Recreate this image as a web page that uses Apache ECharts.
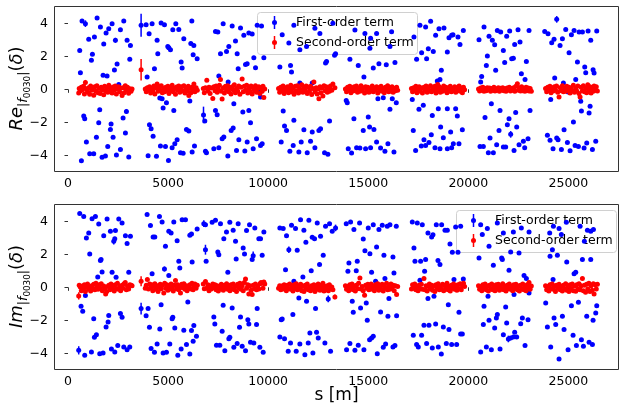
<!DOCTYPE html>
<html>
<head>
<meta charset="utf-8">
<script src="https://cdn.jsdelivr.net/npm/echarts@6/dist/echarts.min.js"></script>
<style>
  html, body { margin: 0; padding: 0; background: #fff; }
  #chart { width: 620px; height: 408px; }
</style>
</head>
<body>
<div id="chart"></div>
<script>
// Tick positions
const xTicks = [0, 5000, 10000, 15000, 20000, 25000];
const yTicks = [-4, -2, 0, 2, 4];

// First-order term, real part: [s, value] or [s, value, error]
const firstRe = [
  [585,2.36],[619,1.01],[669,-4.33],[702,4.14],[785,-1.62],[835,-1.78],[869,3.98,0.2],[919,-3.19],[1035,3.03],[1085,-3.90],
  [1169,1.76],[1219,2.12],[1285,-3.90],[1319,3.17],[1419,-2.91],[1452,4.32],[1535,-2.02],[1585,-1.24],[1619,3.77],[1702,-4.12],
  [1752,0.85],[1785,2.74],[1869,-4.04],[1902,3.41],[1952,0.81],[1985,-3.46],[2035,3.67],[2119,-2.43],[2152,-2.10],[2202,3.98],
  [2252,-2.91],[2319,1.17],[2369,2.97,0.15],[2419,-3.98],[2452,1.53],[2536,0.30],[2619,3.61],[2619,-3.64],[2752,-1.74],[2786,4.14],
  [2869,-2.65],[2919,-1.34,0.15],[2952,2.97],[3036,-4.10],[3086,1.82],[3119,2.66],
  [3652,3.88,0.7],[3902,3.92],[3952,0.74],[4002,-4.02],[4052,3.37],[4069,-2.14],[4152,-2.39],[4202,3.98],[4252,-2.85],[4319,1.25],
  [4419,-4.06],[4452,2.97],[4486,2.16],[4586,-0.53],[4619,-3.44],[4652,4.02],[4702,-0.57],[4752,-1.13],[4819,3.92],[4869,-3.46],
  [4919,-0.81],[4986,2.60],[5019,-4.31],[5036,2.52],[5119,2.40],[5202,-3.54],[5236,3.61],[5286,-1.28],[5336,-3.30],[5386,3.98],
  [5452,-3.05],[5536,3.63],[5619,-3.84],[5652,1.65],[5702,1.29],[5752,-3.88],[5786,3.07],[5919,-2.43],[6036,-2.53],[6086,-0.71],
  [6136,2.77],[6186,4.14],[6202,-3.80],[6252,2.10],[6286,2.66],[6319,-3.44],[6452,1.86],
  [6770,-1.55,0.5],[6835,-1.92],[6868,-3.76],[6918,-3.84],[7285,-3.60],[7368,3.51],[7368,-1.28],[7452,-1.54],[7485,3.47],[7535,0.81],
  [7535,-3.54],[7619,2.16],[7702,-2.99],[7752,3.98],[7785,-2.89],[7919,2.30],[7985,-4.04],[8002,0.44],[8035,2.60],[8152,-2.49],
  [8202,3.84],[8252,-2.35],[8285,-0.87],[8368,2.93],[8419,-3.70],[8452,2.16],[8502,1.25],[8535,-3.05],[8619,3.71],[8735,-1.38],
  [8785,3.27],[8835,-3.74],[8869,1.51],[8952,1.55],[8952,-3.19],[9035,3.41],[9035,-1.28],[9119,-2.02],[9202,3.35],[9252,-3.60],
  [9285,1.92],[9369,1.31],[9419,-2.99],[9452,3.88],[9535,-0.16],[9619,-0.47],[9619,-3.40],[9668,3.84],[9702,-3.30],[9785,1.92],
  [10585,1.35],[10652,-3.19],[10702,3.31],[10752,-1.32],[10818,-2.22],[10918,-2.49],[11035,2.81],[11085,-3.76],[11118,1.45],[11168,1.05],
  [11252,-3.40],[11285,3.88],[11285,-1.88],[11535,-3.80],[11585,0.38],[11585,2.40],[11652,-3.19],[11785,-2.45],[11918,2.60],[11952,-3.84],
  [12118,-3.15],[12203,0.38],[12203,-2.59],[12335,3.70],[12335,-3.54],[12535,-2.49],[12585,3.39],[12618,-2.39],[12818,-3.84],[12868,1.59],
  [12918,1.69],[12985,-3.94],[13068,-1.92],[13235,4.00],[13318,2.06],
  [13368,2.16],[13902,-0.67],[13952,-0.81],[14002,-3.60],[14085,1.82],[14168,-3.86],[14285,-1.78],[14335,3.59],[14418,-3.54],[14502,1.45],
  [14585,-3.56],[14752,-2.49],[14785,0.74],[14835,3.39],[14868,-3.60],[15002,-1.68],[15068,-2.29],[15085,2.49],[15118,3.10],[15118,-3.54],
  [15252,1.29],[15285,-2.43],[15418,3.39],[15418,-3.19],[15485,-0.57],[15535,1.55],[15618,-3.56],[15752,-0.51],[15835,-3.76],[15902,1.49],
  [15985,-3.30],[16085,2.60],[16085,-1.21],[16168,3.49],[16202,-0.57],[16285,-3.80],[16335,1.63],[16402,-0.81],
  [17202,-0.61],[17252,-2.49],[17285,3.17],[17368,-3.70],[17418,1.82],[17535,-1.21],[17585,3.88],[17652,-3.44],[17668,2.22],[17752,-0.97],
  [17785,-3.05],[17868,3.77],[17868,-3.40],[17918,1.86],[18002,2.46],[18035,-3.23],[18118,4.12],[18152,-2.75],[18202,-1.58],[18252,2.30],
  [18335,-3.54],[18368,3.27],[18452,0.50],[18502,-1.17],[18535,3.67],[18585,0.60],[18585,-3.60],[18618,-2.29],[18652,1.15],[18752,-2.93],
  [18785,3.71],[18952,2.26],[18952,-1.17],[18952,-3.60],[19035,3.13],[19118,-2.59],[19168,3.27],[19168,-3.54],[19235,3.31],[19252,-3.30],
  [19368,-1.17],[19452,-1.62],[19485,3.17],[19535,-3.30],[19585,2.72],[19702,-2.45],[19752,3.57],
  [20535,3.01],[20585,-3.46],[20618,0.44],[20668,0.78],[20752,-3.46],[20785,3.77],[20835,-1.70],[20902,1.45],[20952,2.02],[21002,-3.84],
  [21035,3.21],[21085,-2.95],[21152,-0.87],[21202,2.97],[21252,-3.84],[21318,2.70],[21368,1.15],[21418,-3.36],[21452,3.57],[21535,-2.49],
  [21585,-1.28],[21618,3.47],[21752,2.36],[21752,-3.50],[21818,1.63],[21868,-3.50],[21918,3.21],[21952,-2.14],[22035,-1.78],[22068,3.53],
  [22118,-2.73,0.2],[22168,1.86],[22252,1.88],[22285,-3.70],[22318,2.72],[22368,-1.40],[22418,-2.29],[22485,3.61],[22535,-3.36],[22585,2.87],
  [22652,0.95],[22752,-3.15],[22818,-3.54],[22835,0.60],[22902,1.69],[22985,-2.99],[23035,3.57],[23085,-1.28],
  [23818,3.51],[23952,-2.79],[23985,3.37],[24085,-3.09],[24118,-0.61],[24168,2.83],[24235,-3.60],[24285,3.03],[24318,0.68],[24418,4.24,0.2],
  [24418,-2.95],[24485,-3.05],[24585,2.66],[24652,-3.64],[24702,3.07],[24752,0.38],[24785,-2.45],[24868,3.63],[24952,-3.23],[24985,-0.16],
  [25035,2.22],[25085,-3.72],[25152,3.31],[25252,-1.98],[25285,3.57],[25335,-3.40],[25368,0.60],[25452,1.65],[25502,-3.46],[25535,3.47],
  [25618,-0.73],[25652,-1.32],[25702,3.47],[25785,-3.56],[25818,1.35],[25868,1.01],[25918,-3.25],[25985,3.53],[26035,-1.44],[26085,-1.03],
  [26118,2.97],[26202,-3.64],[26235,1.19],[26285,0.99],[26368,-3.15],[26418,3.53]
];

// First-order term, imaginary part
const firstIm = [
  [535,-3.82,0.25],[585,4.47],[652,-1.15],[735,-1.45],[785,4.30],[835,-4.12],[869,-0.50],[919,2.99],[1035,3.30],[1085,2.02],
  [1169,-3.92],[1202,4.16],[1285,-1.90],[1319,-3.03],[1369,4.30],[1419,-2.87],[1485,0.63],[1535,3.84],[1585,-4.02],[1619,1.62],
  [1652,1.68],[1702,0.93],[1752,-3.98],[1785,3.13],[1902,-2.40],[1952,4.14],[2002,-2.10],[2035,-1.70],[2119,3.40],[2169,-3.74],
  [2202,0.91],[2286,2.79,0.2],[2336,2.95],[2336,-3.92],[2369,3.44],[2402,0.61],[2486,-3.53],[2536,4.14],[2619,-1.59],[2702,3.90],
  [2702,-1.82],[2786,-3.61],[2869,3.13],[2952,2.65],[2952,-3.78],[3036,0.91],[3086,-3.61],[3119,3.09],
  [3652,-1.29,0.35],[3902,-1.72],[3952,4.41],[4002,-1.29],[4069,-2.42],[4119,3.74],[4152,-3.70],[4202,0.83],[4252,3.05],[4319,-3.94],
  [4336,3.05],[4452,-3.43],[4569,4.30],[4586,-2.52],[4652,-1.05],[4702,3.96],[4752,-3.98],[4819,1.11,0.15],[4869,2.49],[4919,-3.94],
  [5036,3.40],[5036,0.71],[5086,-3.43],[5152,3.30],[5202,-1.90],[5236,-1.82],[5286,3.96],[5336,-2.46],[5452,2.83],[5486,-4.12],
  [5536,1.58],[5586,1.17],[5652,-3.74],[5702,4.10],[5786,-2.60],[5869,4.10],[5919,-3.47],[5986,-0.89],[6086,3.15],[6086,-4.04],
  [6169,3.23],[6169,-2.62],[6202,1.54],[6252,-3.27],[6286,-2.32],[6418,-2.97],[6452,3.54],
  [6785,3.86,0.2],[6868,3.80],[6868,2.28,0.3],[6902,1.58],[7202,3.94],[7285,-1.80],[7335,-2.22],[7368,4.06],[7418,-3.51],[7485,2.14],
  [7535,1.98],[7585,-3.51],[7618,3.86],[7702,-2.66],[7752,-1.09],[7785,2.95],[7835,-3.84],[7918,3.36],[7985,0.91],[8035,-3.11],
  [8085,3.94],[8085,-3.03],[8202,-1.25],[8252,3.46],[8285,-3.63],[8369,2.79],[8402,1.72],[8452,-3.41],[8502,3.86],[8569,-2.42],
  [8619,-1.80],[8702,-3.57],[8752,2.39],[8819,2.02],[8869,-3.84],[8919,3.44],[8985,-1.96],[9035,-2.22],[9069,3.80],[9119,-3.33],
  [9202,1.68],[9252,1.92,0.25],[9285,-3.37],[9335,3.60],[9419,-2.26],[9452,-1.29],[9535,2.95],[9585,-3.63],[9619,2.95],[9702,1.94],
  [9752,-3.94],[9785,3.36],
  [10585,3.60],[10585,-3.01],[10652,-1.96],[10702,-1.92],[10752,3.56],[10818,-3.11],[10868,1.07],[10918,3.13],[11002,-3.88],[11035,2.28,0.2],
  [11118,-3.37],[11168,3.76],[11235,-1.65],[11285,0.37],[11368,3.56],[11402,-3.88],[11452,2.24],[11535,-0.64],[11585,-3.43],[11618,4.10],
  [11735,0.63],[11785,3.46],[11835,-4.08],[11885,2.73],[11918,-0.85],[12002,-3.37],[12035,4.06],[12085,-2.77],[12152,1.01],[12202,3.03],
  [12235,-3.98],[12318,2.95],[12368,-1.29],[12418,-2.73],[12452,3.90],[12502,-3.07],[12568,1.38],[12618,3.09],[12752,1.94],[12835,-3.37],
  [12868,3.70],[13002,-0.70,0.2],[13068,3.86],[13118,-3.88],[13202,3.40],
  [13368,3.60,0.2],[13902,3.86],[13918,-3.78],[13985,0.97],[14035,1.48],[14085,-3.41],[14118,3.96],[14202,-0.85],[14252,-1.51],[14285,3.50],
  [14335,-3.82],[14402,1.01],[14452,1.58],[14502,-3.51],[14568,3.90],[14618,-1.25],[14752,2.93],[14785,-3.78],[14835,2.22],[14902,-0.95],
  [14952,-2.00],[15002,3.60],[15068,-3.17],[15085,2.04],[15168,0.91],[15168,-3.07],[15252,3.80],[15252,-2.97],[15368,0.37],[15418,2.45],
  [15452,-4.02],[15535,3.50],[15618,-1.49],[15702,3.76],[15752,-3.63],[15785,1.94],[15835,0.53],[15868,-3.43],[15952,3.70],[15985,-1.76],
  [16035,-0.68],[16085,3.80],[16235,1.84],[16235,-3.61],[16285,0.87],[16335,-3.53],[16402,3.70],[16418,-1.72],
  [17202,3.96],[17252,-2.91],[17285,2.39],[17335,1.58],[17418,-3.47],[17452,3.90],[17502,-3.61],[17585,0.43],[17618,1.58],[17668,-2.91],
  [17702,3.80],[17785,-2.30],[17818,0.97],[17868,1.68],[17918,-3.41],[17985,3.30],[17985,-0.68],[18035,-2.30],[18168,3.05],[18202,-3.67],
  [18235,3.19],[18285,-0.54],[18368,-2.22],[18402,3.80],[18485,1.62],[18502,-3.61],[18585,1.38],[18652,-4.04],[18668,3.80],[18752,-2.40],
  [18835,3.46],[18902,-3.41],[18952,3.46],[19002,-1.05],[19035,-2.56],[19085,2.63],[19168,-3.47],[19202,2.12],[19285,0.47],[19368,3.66],
  [19418,-3.47],[19485,2.12],[19535,-1.51],[19618,3.70],[19618,-2.83],[19702,-2.83],[19752,0.51],
  [20535,1.78],[20618,3.80],[20618,-3.92],[20700,3.20],[20752,-2.26],[20785,-1.15],[20902,-3.61],[20952,3.56],[20985,-0.54],[21035,-2.00],
  [21035,2.49],[21152,-3.78],[21252,1.34],[21318,-2.46],[21402,-1.86],[21450,3.90],[21452,-1.65],[21585,-3.74],[21668,1.78],[21702,1.68],
  [21752,3.30],[21752,-2.87],[21868,-1.19],[21918,-2.16],[22002,-3.13,0.2],[22035,1.03],[22118,2.14],[22118,-3.07],[22252,3.36],[22252,-3.01],
  [22285,-0.44],[22318,-2.73],[22418,-3.01],[22535,2.08],[22618,-2.20],[22650,3.60],[22702,-1.86],[22785,0.71],[22835,-3.53],[22902,0.53],
  [22985,-1.96],[23035,3.36],[23035,-0.34],
  [23868,-0.95],[23952,-2.40],[24068,3.30],[24085,1.88],[24118,-3.61],[24202,2.28],[24235,0.47],[24252,3.70],[24285,-1.86],[24368,-2.26],
  [24452,1.94],[24535,3.56],[24535,-4.34],[24650,3.20],[24702,-1.76],[24785,-2.56],[24900,3.95],[24918,1.54],[24985,-3.78],[25152,-1.11],
  [25235,-2.91],[25285,0.83],[25368,0.91],[25402,-3.53],[25502,-0.91],[25585,3.70],[25652,-3.17],[25702,1.68],[25752,-3.57],[25800,2.80],
  [25918,-1.76],[25952,3.46],[26035,-3.33],[26118,1.68],[26118,3.40],[26202,-3.47],[26235,-2.00],[26252,3.50],[26368,-1.55],[26418,-1.11]
];

// Second-order term: [s, real part, imaginary part]
const secondOrder = [
  [535,-0.22,-0.52],[560,0.05,0.12],[615,-0.10,0.02],[665,0.12,-0.20],[720,-0.02,0.08],[775,0.18,-0.06],[820,-0.28,0.15],[869,0.42,-0.25],
  [920,0.02,0.05],[975,-0.15,0.20],[1025,0.10,-0.10],[1080,-0.30,0.02],[1130,0.20,-0.22],[1185,-0.05,0.10],[1240,0.08,-0.05],[1285,-0.36,0.18],
  [1340,0.15,-0.15],[1395,-0.12,0.25],[1445,0.22,0.00],[1500,-0.20,-0.12],[1555,0.05,0.15],[1610,-0.25,-0.05],[1660,0.12,0.22],[1715,-0.02,-0.20],
  [1785,-0.33,0.08],[1830,0.18,-0.08],[1880,-0.08,-0.40],[1935,0.10,-0.25],[1990,-0.18,0.05],[2040,0.25,0.12],[2095,-0.10,-0.15],[2150,0.06,0.20],
  [2200,-0.22,-0.02],[2255,0.14,0.10],[2310,-0.05,-0.22],[2360,0.20,0.15],[2415,-0.28,-0.08],[2470,0.02,0.25],[2520,0.16,-0.12],[2580,-0.14,0.05],
  [2630,0.08,-0.20],[2702,-0.37,0.12],[2750,0.10,-0.05],[2805,-0.20,0.22],[2860,0.22,0.30],[2915,-0.06,-0.15],[2970,0.12,0.08],[3030,-0.24,-0.10],
  [3090,0.04,0.15],[3150,-0.12,0.12],[3200,0.02,0.10],
  [3652,1.19,0.37],
  [3860,0.02,-0.05],[3910,-0.15,0.12],[3965,0.10,0.47],[4020,-0.05,-0.10],[4075,0.15,0.20],[4130,-0.22,-0.02],[4180,0.05,0.15],[4235,-0.10,-0.20],
  [4290,0.20,0.05],[4340,-0.28,0.22],[4395,0.08,-0.12],[4452,0.32,0.10],[4500,-0.12,-0.25],[4555,0.15,0.02],[4610,-0.05,0.18],[4660,0.22,-0.08],
  [4715,-0.20,0.12],[4785,0.05,-0.34],[4830,-0.15,0.25],[4885,0.12,-0.05],[4940,-0.02,0.15],[4990,0.18,-0.18],[5045,-0.25,0.08],[5100,0.10,-0.10],
  [5150,-0.08,0.20],[5205,0.25,0.00],[5260,-0.15,-0.22],[5310,0.05,0.12],[5370,-0.30,0.41],[5420,0.14,-0.08],[5475,-0.04,0.15],[5530,0.20,-0.15],
  [5585,-0.18,0.05],[5620,0.02,-0.34],[5680,0.16,0.18],[5735,-0.10,-0.02],[5790,0.22,0.22],[5845,-0.22,-0.12],[5900,0.08,0.10],[5950,-0.12,-0.20],
  [6010,0.18,0.08],[6036,-0.37,-0.05],[6090,0.05,0.15],[6140,-0.20,-0.10],[6195,0.12,0.25],[6250,-0.08,-0.15],[6290,0.32,0.05],[6340,-0.15,0.20],
  [6400,0.10,-0.05],[6460,-0.05,0.12],
  [6760,0.05,0.20],[6810,-0.20,-0.08],[6868,0.10,0.36],[6935,0.55,-0.05],[6990,-0.10,0.15],[7045,0.12,-0.20],[7100,-0.25,0.08],[7160,0.08,-0.10],
  [7235,-0.55,0.20],[7290,0.15,-0.02],[7345,-0.08,0.15],[7400,0.20,-0.15],[7455,-0.18,0.10],[7510,0.05,-0.22],[7565,0.25,0.05],[7618,0.60,-0.10],
  [7660,-0.12,0.18],[7700,-0.59,0.00],[7760,0.10,-0.18],[7815,-0.22,0.12],[7870,0.18,-0.05],[7925,-0.05,0.22],[7980,0.22,-0.12],[8035,-0.15,0.08],
  [8090,0.08,-0.20],[8145,-0.28,0.15],[8200,0.15,-0.08],[8255,-0.02,0.20],[8310,0.28,-0.15],[8365,-0.20,0.05],[8420,0.05,-0.25],[8475,-0.10,0.18],
  [8530,0.20,-0.02],[8590,-0.30,0.25],[8645,0.12,-0.12],[8700,0.62,0.10],[8755,-0.15,-0.20],[8810,0.18,0.30],[8869,-0.05,0.51],[8925,0.25,-0.05],
  [8980,-0.22,0.15],[9035,0.08,-0.40],[9090,-0.12,0.10],[9145,0.20,-0.18],[9202,-0.28,-0.44],[9255,0.10,0.12],[9310,-0.05,-0.08],[9365,0.22,0.20],
  [9420,-0.18,-0.15],[9475,0.05,0.05],[9535,0.15,-0.10],[9590,-0.25,0.22],[9645,0.08,0.30],[9700,-0.12,0.25],[9740,0.18,-0.05],[9785,-0.50,0.32],
  [9830,0.02,0.20],
  [10520,0.05,-0.05],[10575,-0.18,0.10],[10630,0.12,-0.15],[10690,-0.05,0.08],[10745,0.20,-0.10],[10800,-0.25,0.15],[10855,0.08,0.02],[10910,-0.10,-0.20],
  [10965,0.15,0.12],[11020,-0.20,-0.08],[11075,0.02,0.20],[11130,0.25,-0.12],[11185,-0.15,0.05],[11240,0.10,-0.22],[11295,-0.30,0.15],[11350,0.18,-0.05],
  [11405,-0.08,0.22],[11460,0.22,-0.15],[11515,-0.22,0.08],[11570,0.05,-0.10],[11625,-0.12,0.18],[11680,0.28,-0.20],[11735,-0.18,0.05],[11790,0.08,-0.25],
  [11845,-0.05,0.12],[11900,0.20,-0.08],[11955,-0.25,0.20],[12010,0.12,-0.15],[12065,-0.10,0.02],[12120,0.18,-0.20],[12175,-0.32,0.10],[12230,0.05,-0.05],
  [12285,0.44,0.15],[12340,-0.15,-0.25],[12395,0.10,0.08],[12450,-0.28,-0.12],[12500,0.02,0.20],[12535,-0.57,-0.05],[12590,0.15,-0.18],[12640,-0.20,0.12],
  [12690,0.08,-0.10],[12735,-0.40,0.25],[12790,0.22,-0.22],[12845,-0.08,0.05],[12900,0.15,-0.15],[12955,-0.18,0.10],[13010,0.05,-0.20],[13060,-0.12,0.15],
  [13110,0.20,-0.08],[13180,-0.05,0.02],[13235,0.32,-0.14],[13335,0.10,-0.58],
  [13860,0.02,0.10],[13915,-0.15,-0.12],[13970,0.12,0.05],[14025,-0.05,-0.20],[14080,0.18,0.15],[14135,-0.20,-0.05],[14190,0.08,0.20],[14245,-0.10,-0.15],
  [14300,0.15,0.08],[14355,-0.02,-0.22],[14410,0.20,0.12],[14465,-0.18,-0.08],[14520,0.05,0.25],[14585,-0.12,0.57],[14640,0.22,-0.10],[14695,-0.08,0.05],
  [14750,0.10,-0.20],[14818,-0.22,-0.48],[14870,0.15,0.12],[14925,-0.05,-0.05],[14980,0.12,0.18],[15035,-0.18,-0.15],[15090,0.05,0.02],[15145,-0.10,0.20],
  [15200,0.20,-0.12],[15255,-0.15,0.08],[15310,0.08,-0.20],[15365,-0.02,0.15],[15420,0.16,-0.05],[15475,-0.22,0.22],[15530,0.10,-0.18],[15585,-0.08,0.05],
  [15640,0.18,-0.10],[15695,-0.12,0.18],[15750,0.05,-0.22],[15805,-0.20,0.10],[15860,0.12,-0.05],[15915,-0.05,0.25],[15970,0.22,-0.15],[16025,-0.15,0.05],
  [16080,0.08,-0.12],[16135,-0.10,0.20],[16190,0.15,-0.08],[16245,-0.18,0.12],[16300,0.05,-0.20],[16355,-0.08,0.10],[16418,0.12,-0.44],[16470,-0.05,0.05],
  [17160,0.05,-0.10],[17215,-0.15,0.15],[17270,0.10,-0.05],[17325,-0.08,0.20],[17380,0.18,-0.15],[17435,-0.20,0.08],[17490,0.02,-0.20],[17545,0.15,0.12],
  [17600,-0.12,-0.08],[17655,0.08,0.18],[17710,-0.22,-0.12],[17785,0.12,0.53],[17835,-0.05,-0.15],[17890,0.20,0.10],[17945,-0.18,-0.22],[18000,0.05,0.05],
  [18055,-0.10,0.20],[18110,0.22,-0.10],[18165,-0.15,0.12],[18220,0.08,-0.18],[18275,-0.02,0.08],[18330,0.18,-0.25],[18385,-0.22,0.15],[18440,0.10,-0.05],
  [18470,0.30,0.02],[18495,-0.08,0.22],[18550,0.15,-0.15],[18605,-0.18,0.05],[18660,0.05,-0.12],[18715,-0.12,0.18],[18770,0.20,-0.20],[18825,-0.05,0.10],
  [18880,0.12,-0.08],[18935,-0.20,0.25],[18990,0.08,-0.15],[19045,-0.10,0.05],[19100,0.18,-0.22],[19155,-0.15,0.12],[19210,0.05,-0.05],[19265,-0.08,0.20],
  [19320,0.15,-0.12],[19375,-0.18,0.08],[19430,0.10,-0.18],[19485,-0.05,0.15],[19540,0.20,-0.08],[19595,-0.12,0.22],[19650,0.08,-0.15],[19705,-0.20,0.10],
  [19760,0.12,0.25],[19815,-0.02,0.05],
  [20510,0.02,0.10],[20565,-0.10,-0.12],[20620,0.08,0.05],[20675,-0.05,-0.20],[20730,0.12,0.15],[20785,-0.12,-0.05],[20840,0.05,0.20],[20895,-0.08,-0.15],
  [20950,0.10,0.08],[21005,-0.02,-0.22],[21060,0.08,0.12],[21115,-0.12,-0.08],[21170,0.05,0.20],[21225,-0.06,-0.15],[21280,0.12,0.05],[21335,-0.10,-0.20],
  [21390,0.02,0.15],[21445,-0.05,-0.05],[21500,0.10,0.18],[21555,-0.12,-0.18],[21610,0.06,0.08],[21665,-0.04,-0.10],[21720,0.10,0.22],[21775,-0.08,-0.15],
  [21830,0.04,0.05],[21885,-0.12,-0.22],[21940,0.08,0.12],[21995,-0.02,-0.08],[22050,0.12,0.20],[22105,-0.10,-0.12],[22160,0.05,0.05],[22215,-0.06,-0.20],
  [22270,0.10,0.15],[22325,-0.12,-0.05],[22380,0.18,0.18],[22452,0.34,-0.15],[22500,-0.05,0.08],[22555,0.10,-0.22],[22610,-0.10,0.12],[22665,0.15,-0.08],
  [22720,-0.08,0.20],[22775,0.05,-0.15],[22830,-0.12,0.05],[22885,0.12,-0.20],[22940,-0.05,0.15],[22995,0.08,-0.05],[23035,-0.10,0.30],[23090,0.05,-0.12],
  [23150,-0.12,0.08],
  [23860,0.05,0.10],[23915,-0.15,-0.15],[23970,0.12,0.05],[24025,-0.05,-0.22],[24080,0.18,0.15],[24135,-0.20,-0.08],[24190,0.08,0.20],[24245,-0.10,-0.12],
  [24300,0.15,0.08],[24355,-0.02,-0.25],[24410,0.20,0.12],[24465,-0.18,-0.05],[24535,-0.47,0.18],[24590,0.10,-0.15],[24645,-0.08,0.05],[24700,0.22,-0.22],
  [24755,-0.15,0.12],[24810,0.05,-0.10],[24865,-0.12,0.22],[24920,0.18,-0.18],[24975,-0.05,0.05],[25030,0.12,-0.25],[25085,-0.22,0.15],[25140,0.08,-0.08],
  [25195,-0.10,0.20],[25250,0.25,-0.20],[25305,-0.18,0.08],[25368,0.05,-0.24],[25420,-0.10,0.15],[25475,0.20,-0.10],[25530,-0.25,0.22],[25585,-0.47,-0.15],
  [25640,0.12,0.10],[25702,-0.08,0.53],[25750,0.22,-0.20],[25805,-0.15,0.12],[25860,0.08,-0.30],[25915,-0.20,0.18],[25970,0.28,-0.10],[26025,-0.05,0.25],
  [26080,0.15,-0.25],[26135,-0.22,0.10],[26190,0.10,-0.18],[26245,-0.12,0.22],[26285,0.20,-0.40],[26340,-0.05,0.15],[26395,0.15,-0.10],[26450,-0.10,0.18]
];

// Second-order points with visible uncertainty: [s, error on Re, error on Im]
const secondErr = [
  [535, 0, 0.22],
  [869, 0.15, 0],
  [3652, 0.65, 0.30],
  [13335, 0, 0.15]
];

const BLUE = '#0000ff';
const RED = '#ff0000';
const FONT = 'DejaVu Sans';
const NAME1 = 'First-order term';
const NAME2 = 'Second-order term';

// Plot areas (pixels)
const PANELS = [
  { left: 54, top: 6, width: 565, height: 165 },
  { left: 54, top: 204, width: 565, height: 165 }
];

const fmtMinus = v => String(v).replace('-', '\u2212');

function xAxisFor(grid) {
  return {
    type: 'value', gridIndex: grid, min: -700, max: 27530,
    splitLine: { show: false },
    axisLine: { show: false },
    axisTick: { show: true, customValues: xTicks, length: 3.5, lineStyle: { color: '#333', width: 1 } },
    axisLabel: { customValues: xTicks, formatter: v => String(v), color: '#000',
                 fontFamily: FONT, fontSize: 12.5, margin: 6 }
  };
}
function yAxisFor(grid) {
  return {
    type: 'value', gridIndex: grid, min: -4.95, max: 5.05,
    splitLine: { show: false },
    axisLine: { show: false },
    axisTick: { show: true, customValues: yTicks, length: 3.5, lineStyle: { color: '#333', width: 1 } },
    axisLabel: { customValues: yTicks, formatter: fmtMinus, color: '#000',
                 fontFamily: FONT, fontSize: 12.5, margin: 6 }
  };
}

function errorBars(name, data, color, idx) {
  return {
    type: 'custom', name, xAxisIndex: idx, yAxisIndex: idx, silent: true,
    itemStyle: { color },
    encode: { x: 0, y: 1 },
    data,
    renderItem(params, api) {
      const s = api.value(0), v = api.value(1), e = api.value(2);
      const a = api.coord([s, v - e]), b = api.coord([s, v + e]);
      return { type: 'line', shape: { x1: a[0], y1: a[1], x2: b[0], y2: b[1] },
               style: { stroke: color, lineWidth: 1.5 } };
    }
  };
}
function dots(name, data, color, idx) {
  return {
    type: 'scatter', name, xAxisIndex: idx, yAxisIndex: idx,
    symbol: 'circle', symbolSize: 5,
    itemStyle: { color, opacity: 1 },
    data
  };
}

function panelSeries(first, comp, idx) {
  const blueErr = first.filter(p => p.length > 2).map(p => [p[0], p[1], p[2]]);
  const bluePts = first.map(p => [p[0], p[1]]);
  const redPts = secondOrder.map(p => [p[0], p[comp]]);
  const redErr = secondErr
    .filter(e => e[comp] > 0)
    .map(e => { const p = secondOrder.find(q => q[0] === e[0]); return [p[0], p[comp], e[comp]]; });
  return [
    errorBars(NAME1, blueErr, BLUE, idx),
    dots(NAME1, bluePts, BLUE, idx),
    errorBars(NAME2, redErr, RED, idx),
    dots(NAME2, redPts, RED, idx)
  ];
}

// Legend box: marker with error bar, then the series name
function legendBox(left, top) {
  const rows = [[NAME1, BLUE], [NAME2, RED]];
  const kids = [{
    type: 'rect', shape: { x: 0.5, y: 0.5, width: 160, height: 42, r: 3 },
    style: { fill: 'rgba(255,255,255,0.8)', stroke: '#d0d0d0', lineWidth: 1 }
  }];
  rows.forEach(([name, color], i) => {
    const cy = 10.5 + i * 20;
    kids.push({ type: 'line', shape: { x1: 17.5, y1: cy - 6.5, x2: 17.5, y2: cy + 6.5 },
                style: { stroke: color, lineWidth: 1.5 } });
    kids.push({ type: 'circle', shape: { cx: 17.5, cy, r: 2.5 }, style: { fill: color } });
    kids.push({ type: 'text', x: 39, y: cy,
                style: { text: name, fill: '#000', fontFamily: FONT, fontSize: 12.5,
                         align: 'left', verticalAlign: 'middle' } });
  });
  return { type: 'group', x: left, y: top, z: 100, children: kids };
}

// Rotated axis title of the form  Xx_{|f_{0030}|}(δ)
function mathTitle(head, baseX, centerY) {
  const ctx = document.createElement('canvas').getContext('2d');
  const M = 18, S1 = 12.6, S2 = 8.8;
  const parts = [
    [head, M, true, 0],
    ['|', S1, false, 4.5],
    ['f', S1, true, 4.5],
    ['0030', S2, false, 7.5],
    ['|', S1, false, 4.5],
    ['(', M, false, 0],
    ['\u03b4', M, true, 0],
    [')', M, false, 0]
  ];
  let x = 0;
  const kids = [];
  parts.forEach(([t, size, ital, drop]) => {
    ctx.font = (ital ? 'italic ' : '') + size + 'px "' + FONT + '"';
    const w = ctx.measureText(t).width;
    kids.push({
      type: 'text', x, y: drop - 0.3 * size,
      style: { text: t, fill: '#000', fontFamily: FONT, fontSize: size,
               fontStyle: ital ? 'italic' : 'normal', align: 'left', verticalAlign: 'middle' }
    });
    x += w;
  });
  return { type: 'group', x: baseX, y: centerY + x / 2, rotation: Math.PI / 2, children: kids };
}

// Full frame around each plot area
function frame(p) {
  return { type: 'rect', z: 50, silent: true,
           shape: { x: p.left + 0.5, y: p.top + 0.5, width: p.width - 1, height: p.height },
           style: { fill: 'none', stroke: '#333', lineWidth: 1 } };
}

const chart = echarts.init(document.getElementById('chart'), null, { renderer: 'canvas' });
chart.setOption({
  animation: false,
  backgroundColor: '#fff',
  grid: PANELS.map(p => Object.assign({ show: false }, p)),
  xAxis: [xAxisFor(0), xAxisFor(1)],
  yAxis: [yAxisFor(0), yAxisFor(1)],
  series: [...panelSeries(firstRe, 1, 0), ...panelSeries(firstIm, 2, 1)],
  graphic: [
    frame(PANELS[0]),
    frame(PANELS[1]),
    legendBox(257, 12),
    legendBox(456, 210),
    mathTitle('Re', 22.5, 88.5),
    mathTitle('Im', 22.5, 286.5),
    { type: 'text', x: 336.5, y: 396,
      style: { text: 's [m]', fill: '#000', fontFamily: FONT, fontSize: 17, align: 'center', verticalAlign: 'middle' } }
  ]
});
</script>
</body>
</html>
